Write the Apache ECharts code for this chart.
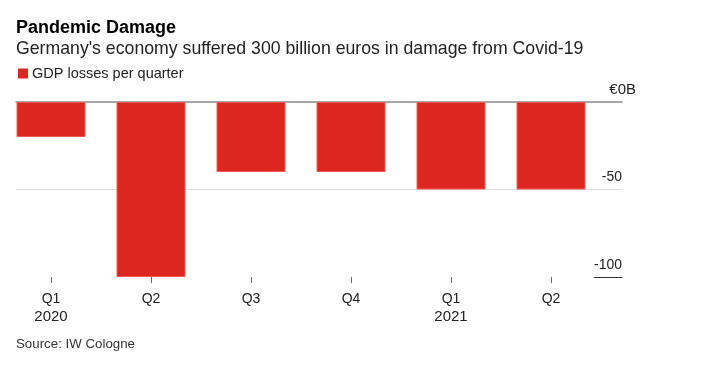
<!DOCTYPE html>
<html>
<head>
<meta charset="utf-8">
<script src="https://cdn.jsdelivr.net/npm/echarts@6/dist/echarts.min.js"></script>
<style>html,body{margin:0;padding:0;background:#fff;}#c{width:707px;height:387px;}</style>
</head>
<body>
<div id="c"></div>
<script>
const quarters = ['Q1', 'Q2', 'Q3', 'Q4', 'Q1', 'Q2'];
const years = ['2020', '', '', '', '2021', ''];
const gdpLosses = [-20, -100, -40, -40, -50, -50];
const yTicks = [-100, -50, 0];
const FONT = '"Liberation Sans", Arial, Helvetica, sans-serif';
const categories = quarters.map(function (q, i) { return q + '|' + years[i]; });

const chart = echarts.init(document.getElementById('c'), null, {renderer: 'canvas'});
chart.setOption({
  animation: false,
  textStyle: {fontFamily: FONT},
  title: [
    {text: 'Pandemic Damage', left: 16, top: 19, padding: 0, textStyle: {fontFamily: FONT, fontSize: 18, fontWeight: 'bold', color: '#000'}},
    {text: "Germany's economy suffered 300 billion euros in damage from Covid-19", left: 16, top: 40, padding: 0, textStyle: {fontFamily: FONT, fontSize: 17.7, fontWeight: 'normal', color: '#222'}},
    {text: 'Source: IW Cologne', left: 16, top: 338, padding: 0, textStyle: {fontFamily: FONT, fontSize: 13.3, fontWeight: 'normal', color: '#333'}}
  ],
  legend: {
    left: 18, top: 66, padding: 0, icon: 'rect', itemWidth: 10, itemHeight: 10, itemGap: 6,
    itemStyle: {borderWidth: 0},
    textStyle: {fontFamily: FONT, fontSize: 14.5, color: '#222', padding: [0, 0, 0, -1]},
    data: ['GDP losses per quarter']
  },
  grid: [
    {left: 1, width: 600, top: 102, height: 175},
    {left: 16, width: 606, top: 102, height: 175}
  ],
  xAxis: [
    {
      type: 'category', gridIndex: 0, data: categories, position: 'bottom',
      axisLine: {show: true, onZero: false, lineStyle: {color: 'rgba(0,0,0,0)'}},
      axisTick: {show: true, inside: false, alignWithLabel: true, length: 6, lineStyle: {color: '#666', width: 1}},
      axisLabel: {
        fontFamily: FONT, color: '#222', margin: 13,
        formatter: function (v) {
          const p = v.split('|');
          return p[1] ? '{q|' + p[0] + '}\n{y|' + p[1] + '}' : '{q|' + p[0] + '}';
        },
        rich: {
          q: {fontFamily: FONT, fontSize: 14, color: '#222', lineHeight: 18},
          y: {fontFamily: FONT, fontSize: 15, color: '#222', lineHeight: 18}
        }
      }
    },
    {
      type: 'value', gridIndex: 1, min: 0, max: 1,
      axisLine: {show: true, onZero: true, lineStyle: {color: '#8a8a8a', width: 1.5}},
      axisTick: {show: false}, axisLabel: {show: false}, splitLine: {show: false}
    }
  ],
  yAxis: [
    {type: 'value', gridIndex: 0, min: -100, max: 0, show: false},
    {
      type: 'value', gridIndex: 1, min: -100, max: 0, interval: 50, position: 'right', offset: 14,
      axisLine: {show: false}, axisTick: {show: false},
      splitLine: {show: true, lineStyle: {color: ['rgba(0,0,0,0)', '#dcdcdc', 'rgba(0,0,0,0)'], width: 1}},
      axisLabel: {
        inside: true, margin: 0, color: '#222',
        verticalAlign: 'bottom', padding: [0, 0, 5, 0],
        formatter: function (v) { return v === 0 ? '{z|€0B}' : '{n|' + v + '}'; },
        rich: {
          z: {fontFamily: FONT, fontSize: 15, color: '#222'},
          n: {fontFamily: FONT, fontSize: 14, color: '#222', padding: [0, 14, 0, 0]}
        }
      }
    }
  ],
  series: [
    {
      name: 'GDP losses per quarter', type: 'bar', xAxisIndex: 0, yAxisIndex: 0,
      data: gdpLosses, barWidth: '69%',
      itemStyle: {color: '#dc2620', borderColor: '#ef5a52', borderWidth: 1}
    },
    {
      name: 'axisdeco', type: 'line', xAxisIndex: 1, yAxisIndex: 1, data: [],
      silent: true,
      markLine: {
        symbol: 'none', silent: true, label: {show: false},
        lineStyle: {color: '#333', width: 1, type: 'solid'},
        data: [[{coord: [0.954, yTicks[0]]}, {coord: [1, yTicks[0]]}]]
      }
    }
  ]
});
</script>
</body>
</html>
